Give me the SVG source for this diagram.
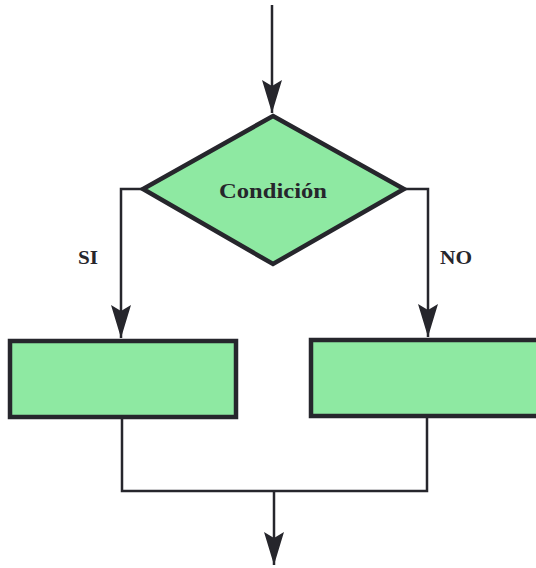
<svg xmlns="http://www.w3.org/2000/svg" width="536" height="568" viewBox="0 0 536 568">
<style>
.shape{fill:#8ee9a2;stroke:#26262c;stroke-width:4.5;stroke-linejoin:miter}
.line{fill:none;stroke:#26262c;stroke-width:2.5}
.lbl{font-family:"Liberation Serif",serif;font-weight:bold;fill:#26262c}
</style>
<defs>
<marker id="ah" markerUnits="userSpaceOnUse" markerWidth="34" markerHeight="22" refX="33" refY="11" orient="auto" viewBox="0 0 34 22">
<path d="M0,1 L6,11 L0,21 L33,11 Z" fill="#26262c"/>
</marker>
</defs>
<rect width="536" height="568" fill="#ffffff"/>
<g id="connectors">
<path class="line" d="M272,5 V113" marker-end="url(#ah)"/>
<path class="line" d="M143,189 H121 V338" marker-end="url(#ah)"/>
<path class="line" d="M404,189 H428 V337" marker-end="url(#ah)"/>
<path class="line" d="M122,418 V491 H427 V417"/>
<path class="line" d="M274,491 V565" marker-end="url(#ah)"/>
</g>
<g id="condicion">
<polygon class="shape" points="273,116 404,189 273,264 143,189"/>
<text class="lbl" x="273" y="198" font-size="21" text-anchor="middle" textLength="108" lengthAdjust="spacingAndGlyphs">Condición</text>
</g>
<g id="proceso-si">
<rect class="shape" x="10" y="341" width="226" height="76"/>
</g>
<g id="proceso-no">
<rect class="shape" x="311" y="340" width="230" height="76"/>
</g>
<g id="labels">
<text class="lbl" x="78" y="264" font-size="18" textLength="20" lengthAdjust="spacingAndGlyphs">SI</text>
<text class="lbl" x="440" y="264" font-size="18" textLength="32" lengthAdjust="spacingAndGlyphs">NO</text>
</g>
</svg>
